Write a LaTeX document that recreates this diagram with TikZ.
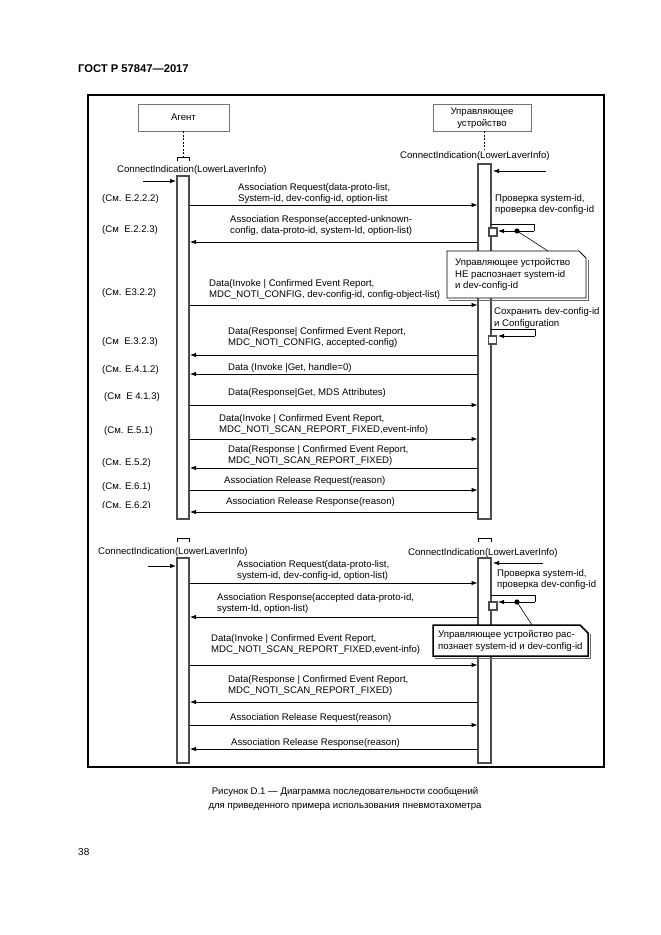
\documentclass[tikz,border=0pt]{standalone}
\usepackage{fontspec}
\setmainfont{Liberation Sans}
\usetikzlibrary{arrows.meta}
\begin{document}
\begin{tikzpicture}[x=1pt,y=-1pt,
  txt/.style={font=\fontsize{9.6}{11.5}\selectfont, inner sep=0pt, align=left, anchor=base west},
  ctxt/.style={font=\fontsize{9.6}{11.5}\selectfont, inner sep=0pt, align=center},
  msg/.style={line width=0.8pt, -{Latex[length=6pt,width=4.5pt]}},
  loopl/.style={line width=0.8pt},
  bar/.style={draw=black!70, line width=1.1pt, fill=white},
  sqbox/.style={draw=black!70, line width=1.2pt, fill=white},
  actor/.style={draw=black!55, line width=0.6pt},
  life/.style={line width=0.6pt, dash pattern=on 2pt off 1.5pt},
  callout/.style={draw=black, line width=0.9pt, fill=white},
  shadowl/.style={draw=black!60, line width=0.8pt}
]
\useasboundingbox (0,0) rectangle (661,935);

% header, caption, page number
\node[font=\bfseries\fontsize{11.2}{13}\selectfont, inner sep=0pt, anchor=base west] (hdr) at (78,72) {ГОСТ Р 57847—2017};
\node[ctxt, anchor=base] (cap1) at (345,794.5) {Рисунок D.1 — Диаграмма последовательности сообщений};
\node[ctxt, anchor=base] (cap2) at (345,808.5) {для приведенного примера использования пневмотахометра};
\node[font=\fontsize{10}{12}\selectfont, inner sep=0pt, anchor=base west] (pg) at (78,855) {38};

% frame
\draw[line width=2.5pt] (88,95) rectangle (604,767);

% actors
\draw[actor] (138,104) rectangle (229,131);
\node[ctxt] (agent) at (183.5,117.5) {Агент};
\draw[actor] (433,104) rectangle (531,131);
\node[ctxt] (mgr) at (482,118) {Управляющее\\устройство};
\draw[life] (183,131) -- (183,157);
\draw[life] (484,131) -- (484,150);

% ticks
\draw[line width=0.8pt] (177,161) -- (177,157) -- (189,157) -- (189,161);
\draw[line width=0.8pt] (177,542) -- (177,538) -- (189,538) -- (189,542);
\draw[line width=0.8pt] (478,542) -- (478,538) -- (491,538) -- (491,542);

% activation bars
\draw[bar] (177,176) rectangle (189,519);
\draw[bar] (478,164) rectangle (491,519);
\draw[bar] (177,558) rectangle (189,763);
\draw[bar] (478,558) rectangle (491,763);

% ConnectIndication labels and inbound arrows
\node[txt] (ciL1) at (117,172.5) {ConnectIndication(LowerLaverInfo)};
\node[txt] (ciR1) at (400,158.5) {ConnectIndication(LowerLaverInfo)};
\node[txt] (ciL2) at (98,554) {ConnectIndication(LowerLaverInfo)};
\node[txt] (ciR2) at (408,555) {ConnectIndication(LowerLaverInfo)};
\coordinate (inL1a) at (143,181); \coordinate (inL1b) at (176,181);
\coordinate (inR1a) at (546,171); \coordinate (inR1b) at (493,171);
\coordinate (inL2a) at (148,566); \coordinate (inL2b) at (176,566);
\coordinate (inR2a) at (543,563); \coordinate (inR2b) at (493,563);
\draw[msg] (inL1a) -- (inL1b);
\draw[msg] (inR1a) -- (inR1b);
\draw[msg] (inL2a) -- (inL2b);
\draw[msg] (inR2a) -- (inR2b);

% messages
\foreach \n/\y in {1/205,3/305,6/405,7/439,9/490,11/583,13/665,15/725} {
  \coordinate (ls\n) at (190,\y); \coordinate (rs\n) at (477.5,\y);
  \draw[msg] (ls\n) -- (rs\n);
}
\foreach \n/\y in {2/242,4/355,5/374,8/468,10/512,12/617,14/702,16/749} {
  \coordinate (ls\n) at (190,\y); \coordinate (rs\n) at (477.5,\y);
  \draw[msg] (rs\n) -- (ls\n);
}

% (anchor base = baseline of the last line)
\node[txt] (t1) at (238,201.5) {Association Request(data-proto-list,\\System-id, dev-config-id, option-list};
\node[txt] (t2) at (230,233.5) {Association Response(accepted-unknown-\\config, data-proto-id, system-Id, option-list)};
\node[txt] (t3) at (209,297.5) {Data(Invoke | Confirmed Event Report,\\MDC\_NOTI\_CONFIG, dev-config-id, config-object-list)};
\node[txt] (t4) at (228,345.5) {Data(Response| Confirmed Event Report,\\MDC\_NOTI\_CONFIG, accepted-config)};
\node[txt] (t5) at (228,370) {Data (Invoke |Get, handle=0)};
\node[txt] (t6) at (228,395) {Data(Response|Get, MDS Attributes)};
\node[txt] (t7) at (219,432.5) {Data(Invoke | Confirmed Event Report,\\MDC\_NOTI\_SCAN\_REPORT\_FIXED,event-info)};
\node[txt] (t8) at (228,463.5) {Data(Response | Confirmed Event Report,\\MDC\_NOTI\_SCAN\_REPORT\_FIXED)};
\node[txt] (t9) at (224,483) {Association Release Request(reason)};
\node[txt] (t10) at (226,504) {Association Release Response(reason)};
\node[txt] (t11) at (237,578.5) {Association Request(data-proto-list,\\system-id, dev-config-id, option-list)};
\node[txt] (t12) at (217,611.5) {Association Response(accepted data-proto-id,\\system-Id, option-list)};
\node[txt] (t13) at (211,652.5) {Data(Invoke | Confirmed Event Report,\\MDC\_NOTI\_SCAN\_REPORT\_FIXED,event-info)};
\node[txt] (t14) at (228,693.5) {Data(Response | Confirmed Event Report,\\MDC\_NOTI\_SCAN\_REPORT\_FIXED)};
\node[txt] (t15) at (230,720) {Association Release Request(reason)};
\node[txt] (t16) at (231,745) {Association Release Response(reason)};

% references
\node[txt] (r1) at (102,201.5) {(См. E.2.2.2)};
\node[txt] (r2) at (102,232.5) {(См~ E.2.2.3)};
\node[txt] (r3) at (102,295.5) {(См. E3.2.2)};
\node[txt] (r4) at (102,344.5) {(См~ E.3.2.3)};
\node[txt] (r5) at (102,372.5) {(См. E.4.1.2)};
\node[txt] (r6) at (104,399.5) {(См~ E 4.1.3)};
\node[txt] (r7) at (104,433.5) {(См. E.5.1)};
\node[txt] (r8) at (102,465.5) {(См. E.5.2)};
\node[txt] (r9) at (102,489.5) {(См. E.6.1)};
\begin{scope}
\clip (95,498) rectangle (170,507);
\node[txt] (r10) at (102,508.5) {(См. E.6.2)};
\end{scope}

% right side notes
\node[txt] (n1) at (495,212.5) {Проверка system-id,\\проверка dev-config-id};
\node[txt] (n2) at (494,326) {Сохранить dev-config-id\\и Configuration};
\node[txt] (n3) at (497,587.5) {Проверка system-id,\\проверка dev-config-id};

% self loops
\draw[loopl] (491,224) -- (534,224) -- (534,231);
\draw[msg] (534,231) -- (498,231);
\node[sqbox, minimum size=8pt, inner sep=0pt] (sq1) at (493,232) {};
\fill (517,231) circle (2.6);
\draw[loopl] (491,329) -- (535,329) -- (535,336);
\draw[msg] (535,336) -- (498,336);
\node[sqbox, minimum size=8pt, inner sep=0pt] (sq2) at (492.5,340) {};
\draw[loopl] (491,595) -- (535,595) -- (535,602);
\draw[msg] (535,602) -- (498,602);
\node[sqbox, minimum size=8pt, inner sep=0pt] (sq3) at (493,606) {};
\fill (517,602) circle (2.6);

% callouts
\draw[shadowl] (588,260) -- (588,300) -- (449,300);
\draw[callout] (447,251) -- (579,251) -- (586,258) -- (586,298) -- (447,298) -- cycle;
\node[txt] (c1) at (455,288.5) {Управляющее устройство\\НЕ распознает system-id\\и dev-config-id};
\coordinate (d1) at (517,231); \coordinate (k1) at (548,251);
\draw[line width=0.6pt] (d1) -- (k1);

\draw[shadowl] (590,634) -- (590,658) -- (435,658);
\draw[callout, line width=1.5pt] (433,625) -- (580,625) -- (588,633) -- (588,656) -- (433,656) -- cycle;
\node[txt] (c2) at (438,649) {Управляющее устройство рас-\\познает system-id и dev-config-id};
\coordinate (d3) at (517,602); \coordinate (k3) at (532,625);
\draw[line width=0.6pt] (d3) -- (k3);

\end{tikzpicture}
\end{document}
